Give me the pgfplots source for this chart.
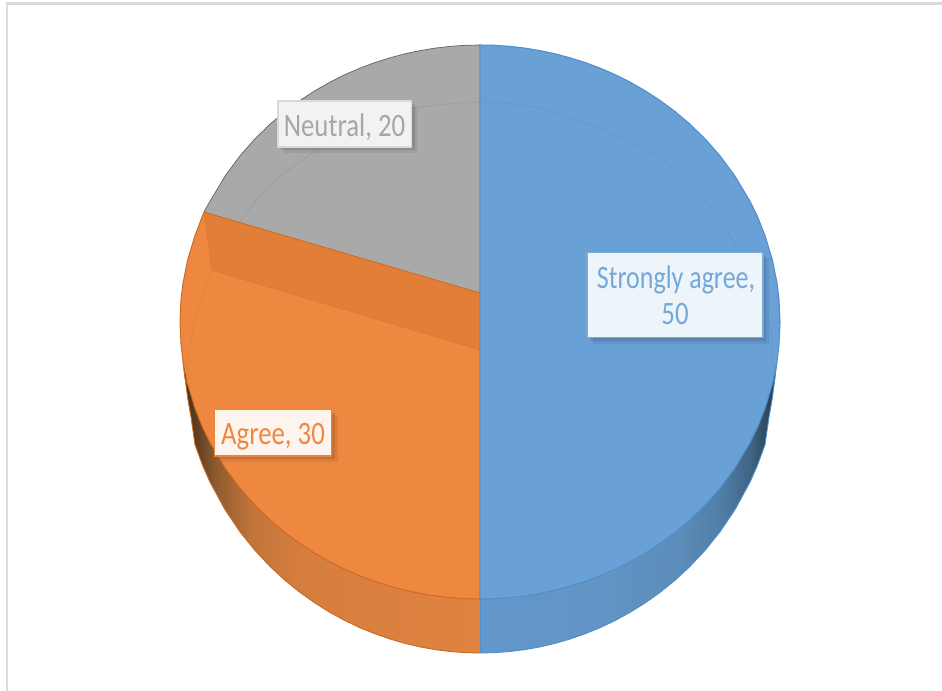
\documentclass[border=0pt]{standalone}
\usepackage{fontspec}
\setmainfont{Carlito}
\usepackage{pgfplots}
\pgfplotsset{compat=1.18}
\usetikzlibrary{shadows}

\definecolor{blueT}{HTML}{69A0D6}
\definecolor{blueE}{HTML}{4F8FCB}
\definecolor{blueL}{HTML}{5C97D0}
\definecolor{orangeT}{HTML}{EE8740}
\definecolor{orangeD}{HTML}{E27E37}
\definecolor{orangeE}{HTML}{CC6A22}
\definecolor{grayT}{HTML}{A9A9A9}
\definecolor{lO0}{HTML}{3D2A18}\definecolor{lO1}{HTML}{5C3C1E}\definecolor{lO2}{HTML}{8D5A2E}
\definecolor{lO3}{HTML}{C0743A}\definecolor{lO4}{HTML}{D67E3E}\definecolor{lO5}{HTML}{E08340}
\definecolor{lB0}{HTML}{6497CA}\definecolor{lB1}{HTML}{6295C5}\definecolor{lB2}{HTML}{5C8CB9}
\definecolor{lB3}{HTML}{507EA8}\definecolor{lB4}{HTML}{3F6585}\definecolor{lB5}{HTML}{2C4359}\definecolor{lB6}{HTML}{26384A}

% side shadings, stops 25bp..75bp span the path's width
\pgfdeclarehorizontalshading{orangeside}{100bp}{
  color(0bp)=(lO0); color(25bp)=(lO0); color(27.5bp)=(lO1); color(30.8bp)=(lO2);
  color(36.7bp)=(lO3); color(45bp)=(lO4); color(75bp)=(lO5); color(100bp)=(lO5)}
\pgfdeclarehorizontalshading{blueside}{100bp}{
  color(0bp)=(lB0); color(25bp)=(lB0); color(45bp)=(lB1); color(58.3bp)=(lB2);
  color(65bp)=(lB3); color(70bp)=(lB4); color(73.3bp)=(lB5); color(75bp)=(lB6); color(100bp)=(lB6)}

\newcommand\lbl[2][.82]{\scalebox{#1}[1]{#2}}
\tikzset{
  datalabel/.style={rectangle, inner sep=0pt, line width=1pt, align=center,
    font=\fontsize{24.5}{27}\selectfont,
    general shadow={shadow xshift=4.5pt, shadow yshift=-4.5pt, fill=black, opacity=.07},
    general shadow={shadow xshift=2.5pt, shadow yshift=-2.5pt, fill=black, opacity=.10}},
}

\begin{document}
\begin{tikzpicture}
\useasboundingbox (0,0) rectangle (706.5pt,518.25pt);
\begin{axis}[
    scale only axis,
    width=706.5pt, height=518.25pt,
    xmin=0, xmax=942, ymin=0, ymax=691,
    y dir=reverse,
    axis lines=none,
]

% frame
\addplot[color=black!14, line width=2.2pt] coordinates {(7,691) (7,3.5) (942,3.5)};

% side of the orange slice
\addplot[shade, shading=orangeside, draw=none] coordinates {
  (480,300) (180,322) (183,361) (185,378) (188,400) (191,417) (195,444.6) (202.5,465.1) (210,482.1)
  (225,509.6) (240,531.8) (255,550.4) (270,566.4) (285,580.3) (300,592.4) (315,603) (330,612.4)
  (345,620.6) (360,627.7) (375,633.8) (390,639) (405,643.4) (420,646.9) (435,649.6) (450,651.5)
  (465,652.6) (480,653)
} --cycle;
% side of the blue slice
\addplot[shade, shading=blueside, draw=none] coordinates {
  (480,300) (780,322) (777,361) (775,378) (772,400) (769,417) (765,444.6) (757.5,465.1) (750,482.1)
  (735,509.6) (720,531.8) (705,550.4) (690,566.4) (675,580.3) (660,592.4) (645,603) (630,612.4)
  (615,620.6) (600,627.7) (585,633.8) (570,639) (555,643.4) (540,646.9) (525,649.6) (510,651.5)
  (495,652.6) (480,653)
} --cycle;
% outlines of the sides
\addplot[color=orangeE, line width=.7pt] coordinates {
  (183,361) (185,378) (188,400) (191,417) (195,444.6) (202.5,465.1) (210,482.1)
  (225,509.6) (240,531.8) (255,550.4) (270,566.4) (285,580.3) (300,592.4) (315,603) (330,612.4)
  (345,620.6) (360,627.7) (375,633.8) (390,639) (405,643.4) (420,646.9) (435,649.6) (450,651.5)
  (465,652.6) (480,653)
};
\addplot[color=blueE, line width=.7pt] coordinates {
  (777,361) (775,378) (772,400) (769,417) (765,444.6) (757.5,465.1) (750,482.1)
  (735,509.6) (720,531.8) (705,550.4) (690,566.4) (675,580.3) (660,592.4) (645,603) (630,612.4)
  (615,620.6) (600,627.7) (585,633.8) (570,639) (555,643.4) (540,646.9) (525,649.6) (510,651.5)
  (495,652.6) (480,653)
};
\addplot[color=blueE, line width=1.2pt] coordinates {(480.5,599) (480.5,653)};

% Neutral, 20
\addplot[fill=grayT, draw=none] coordinates {
  (480,293) (480,45) (465,45.3) (450,46.4) (435,48.1) (420,50.6) (405,53.8) (390,57.8)
  (375,62.5) (360,68.1) (345,74.6) (330,82.1) (315,90.7) (300,100.4) (285,111.5)
  (270,124.2) (255,138.8) (240,155.8) (225,176.1) (210,201.3) (204,212)
} --cycle;
\addplot[color=black!45!grayT, line width=.5pt] coordinates {
  (204,212) (210,201.3) (225,176.1) (240,155.8) (255,138.8) (270,124.2) (285,111.5)
  (300,100.4) (315,90.7) (330,82.1) (345,74.6) (360,68.1) (375,62.5) (390,57.8) (405,53.8)
  (420,50.6) (435,48.1) (450,46.4) (465,45.3) (480,45)
};
\addplot[smooth, color=black!6!grayT, line width=.7pt] coordinates {
  (240,222) (253,204) (270,185) (292,167) (317,150) (340,135) (365,122) (390,114) (415,108) (447,104) (480,102)
};

% Agree, 30
\addplot[fill=orangeT, draw=none] coordinates {
  (480,293) (204,212) (195,235.5) (187.5,260.4) (183,282.9) (181,299) (180,322) (181,344.6) (183,361)
  (187.5,383.6) (195,408.5) (202.5,427.3) (210,442.7) (225,467.9) (240,488.2) (255,505.2) (270,519.8)
  (285,532.5) (300,543.6) (315,553.3) (330,561.9) (345,569.4) (360,575.9) (375,581.5) (390,586.2)
  (405,590.2) (420,593.4) (435,595.9) (450,597.6) (465,598.7) (480,599)
} --cycle;
\addplot[fill=orangeD, draw=none] coordinates {(204,212) (480,293) (480,350) (212,270)} --cycle;
\addplot[color=orangeE, line width=.6pt] coordinates {(480,293) (204,212)};
\addplot[color=black!5!orangeD, line width=.4pt] coordinates {(204,212) (212,270) (480,350)};
\addplot[smooth, color=black!4!orangeT, line width=.6pt] coordinates {
  (212,270) (198,310) (189,350) (187,384)
};
\addplot[color=orangeE, line width=.7pt] coordinates {
  (204,212) (195,235.5) (187.5,260.4) (183,282.9) (181,299) (180,322) (181,344.6) (183,361)
  (185,378)
};
\addplot[color=orangeE, line width=.7pt] coordinates {
  (185,378) (187.5,383.6) (195,408.5) (202.5,427.3) (210,442.7) (225,467.9) (240,488.2) (255,505.2) (270,519.8)
  (285,532.5) (300,543.6) (315,553.3) (330,561.9) (345,569.4) (360,575.9) (375,581.5) (390,586.2)
  (405,590.2) (420,593.4) (435,595.9) (450,597.6) (465,598.7) (480,599)
};

% Strongly agree, 50
\addplot[fill=blueT, draw=blueE, line width=.8pt] coordinates {
  (480,45) (495,45.3) (510,46.4) (525,48.1) (540,50.6) (555,53.8) (570,57.8) (585,62.5)
  (600,68.1) (615,74.6) (630,82.1) (645,90.7) (660,100.4) (675,111.5) (690,124.2)
  (705,138.8) (720,155.8) (735,176.1) (750,201.3) (757.5,216.7) (765,235.5) (772.5,260.4)
  (777,282.9) (779,299) (780,322) (779,344.6) (777,361) (772.5,383.6) (765,408.5) (757.5,427.3)
  (750,442.7) (735,467.9) (720,488.2) (705,505.2) (690,519.8) (675,532.5) (660,543.6) (645,553.3)
  (630,561.9) (615,569.4) (600,575.9) (585,581.5) (570,586.2) (555,590.2) (540,593.4) (525,595.9)
  (510,597.6) (495,598.7) (480,599)
} --cycle;
\addplot[color=blueL, line width=1.2pt] coordinates {(480.5,45) (480.5,599)};
\addplot[smooth, color=black!4!blueT, line width=.7pt] coordinates {
  (480,102) (510,103.5) (540,108) (570,117) (603,130) (650,152) (687,180) (715,213) (737,247)
  (752,275) (762,300) (770,325) (773,355) (774,375)
};

% data labels
\node[datalabel, fill=white!95!black, draw=black!15, minimum width=100pt, minimum height=34.5pt,
  text=black!35] at (axis cs:344.5,124) {\raisebox{-2.2pt}[\height][\depth]{\lbl{Neutral, 20}}};
\node[datalabel, fill=orangeT!9!white, draw=orangeT!90!orangeE, minimum width=88pt, minimum height=35pt,
  text=orangeT] at (axis cs:273,432.5) {\raisebox{-3pt}[\height][\depth]{\lbl{Agree, 30}}};
\node[datalabel, fill=blueT!12!white, draw=blueT!90!white, minimum width=132pt, minimum height=64pt,
  text=blueT!92!white] at (axis cs:675,295) {\hspace{1.5pt}\lbl[.795]{Strongly agree,}\\\lbl{50}};

\end{axis}
\end{tikzpicture}
\end{document}
